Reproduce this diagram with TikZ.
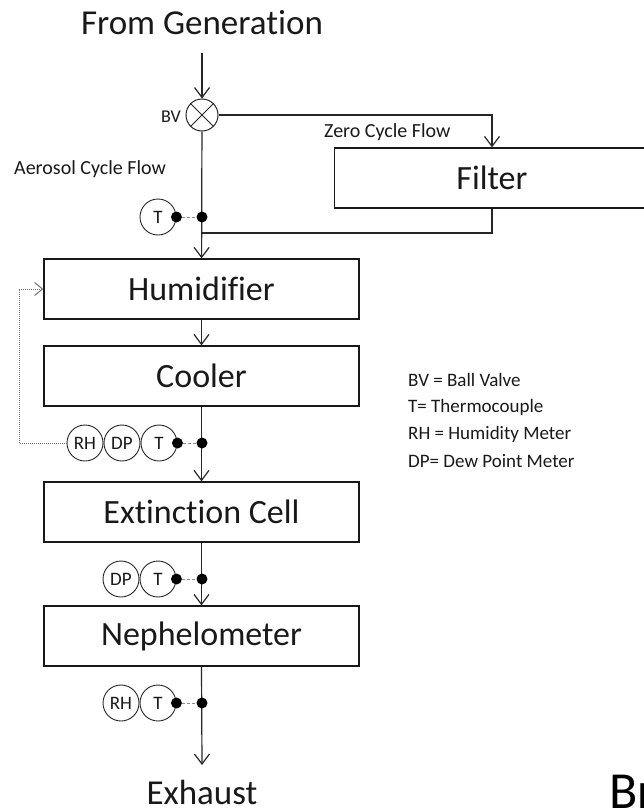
\documentclass[tikz,border=0pt]{standalone}
\usepackage{fontspec}
\setmainfont{Carlito}[Ligatures={NoCommon}]
\usetikzlibrary{arrows.meta}
\tikzset{
  flow/.style={draw=black!85, line width=1.2pt,
    -{Straight Barb[length=10pt,width=15pt,line width=1.2pt]}},
  pipe/.style={draw=black!85, line width=1.2pt},
  feedback/.style={draw=black!55, densely dotted, line width=1pt,
    -{Straight Barb[length=8pt,width=13pt,line width=1pt]}},
  unitbox/.style={draw=black!90, line width=1.3pt, minimum width=315pt,
    minimum height=60pt, inner sep=0pt, text=black!90,
    font=\fontsize{34}{40}\selectfont},
  sensor/.style={circle, draw=black!85, line width=0.9pt, minimum size=36pt,
    inner sep=0pt, text=black!90, font=\fontsize{19}{20}\selectfont},
  tap/.style={circle, fill=black, minimum size=11pt, inner sep=0pt},
  probe/.style={draw=black!45, densely dashed, line width=0.9pt},
  smalltext/.style={font=\fontsize{20}{24}\selectfont, inner sep=0pt, text=black!90},
  bigtext/.style={font=\fontsize{35}{40}\selectfont, inner sep=0pt, text=black!90},
  legendtext/.style={font=\fontsize{19}{22}\selectfont, inner sep=0pt,
    anchor=west, text=black!90},
}
\begin{document}
\begin{tikzpicture}[x=1pt, y=-1pt]
\useasboundingbox (0,0) rectangle (644,811);
\clip (0,0) rectangle (644,811);

% inlet and ball valve
\node[bigtext] (src) at (202,23) {From Generation};
\coordinate (inlet) at (202,53);
\node[circle, draw=black!85, line width=1pt, minimum size=32pt, inner sep=0pt] (bv) at (202,115) {};
\draw[black!85, line width=1pt] (bv.north west) -- (bv.south east)
  (bv.south west) -- (bv.north east);
\node[smalltext, anchor=east, font=\fontsize{18}{20}\selectfont] (bvlabel) at (181,117) {BV};
\draw[flow] (inlet) -- (bv);

% zero cycle branch through the filter
\node[unitbox] (filter) at (492,178) {Filter};
\coordinate (zc) at (492,115);
\draw[flow] (bv) -- (zc) -- (filter);
\node[smalltext, anchor=west] (zclabel) at (324,132) {Zero Cycle Flow};
\coordinate (ret) at (492,233);
\coordinate (join) at (202,233);
\draw[pipe] (filter) -- (ret) -- (join);

% aerosol cycle main line
\node[smalltext, anchor=west] (aclabel) at (14,169) {Aerosol Cycle Flow};
\node[unitbox] (hum) at (201.5,289) {Humidifier};
\node[unitbox] (cool) at (201.5,376) {Cooler};
\node[unitbox] (ext) at (201.5,512) {Extinction Cell};
\node[unitbox] (neph) at (201.5,636) {Nephelometer};
\node[bigtext, anchor=base] (exh) at (202,804) {Exhaust};
\coordinate (outlet) at (202,765);

\draw[flow] (bv) -- (hum);
\draw[flow] (hum) -- (cool);
\draw[flow] (cool) -- (ext);
\draw[flow] (ext) -- (neph);
\draw[flow] (neph.south) -- (outlet);

% sensors before the humidifier
\node[sensor] (t1) at (158,217) {T};
\node[tap] (t1d) at (t1.east) {};
\node[tap] (m1) at (202,217) {};
\draw[probe] (t1d) -- (m1);

% sensors after the cooler
\node[sensor] (rh2) at (85,443) {RH};
\node[sensor] (dp2) at (122,443) {DP};
\node[sensor] (t2) at (159,443) {T};
\node[tap] (t2d) at (t2.east) {};
\node[tap] (m2) at (202,443) {};
\draw[probe] (t2d) -- (m2);

% humidity feedback to the humidifier
\coordinate (fbl) at (19,443);
\coordinate (fbu) at (19,289);
\draw[feedback] (rh2) -- (fbl) -- (fbu) -- (hum);

% sensors after the extinction cell
\node[sensor] (dp3) at (121,579) {DP};
\node[sensor] (t3) at (158,579) {T};
\node[tap] (t3d) at (t3.east) {};
\node[tap] (m3) at (202,579) {};
\draw[probe] (t3d) -- (m3);

% sensors after the nephelometer
\node[sensor] (rh4) at (121,703) {RH};
\node[sensor] (t4) at (158,703) {T};
\node[tap] (t4d) at (t4.east) {};
\node[tap] (m4) at (202,703) {};
\draw[probe] (t4d) -- (m4);

% legend
\node[legendtext] (lg1) at (408,380) {BV = Ball Valve};
\node[legendtext] (lg2) at (408,407) {T= Thermocouple};
\node[legendtext] (lg3) at (408,434) {RH = Humidity Meter};
\node[legendtext] (lg4) at (408,461) {DP= Dew Point Meter};

% text running off the lower right edge
\node[anchor=base west, inner sep=0pt, font=\fontsize{52}{60}\selectfont] (br) at (609,808) {Br};
\end{tikzpicture}
\end{document}
